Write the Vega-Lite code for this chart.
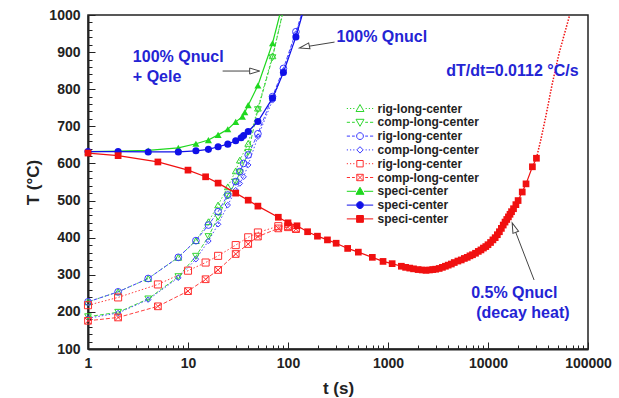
{
  "$schema": "https://vega.github.io/schema/vega-lite/v6.json",
  "width": 500,
  "height": 334,
  "autosize": {"type": "none"},
  "padding": {"left": 88, "top": 15, "right": 31, "bottom": 49},
  "background": "white",
  "config": {"view": {"stroke": "#222", "strokeWidth": 1.5}, "font": "Liberation Sans"},
  "datasets": {
    "main": [
      {"s":"1rig-long-center","t":1,"T":227},{"s":"1rig-long-center","t":2,"T":254},{"s":"1rig-long-center","t":4,"T":290},{"s":"1rig-long-center","t":8,"T":347},{"s":"1rig-long-center","t":12,"T":392},{"s":"1rig-long-center","t":16,"T":443},{"s":"1rig-long-center","t":20,"T":488},{"s":"1rig-long-center","t":25,"T":537},{"s":"1rig-long-center","t":30,"T":580},{"s":"1rig-long-center","t":33,"T":609},{"s":"1rig-long-center","t":40,"T":654},{"s":"1rig-long-center","t":50,"T":749},{"s":"1rig-long-center","t":70,"T":890},{"s":"1rig-long-center","t":90,"T":1011},
      {"s":"2comp-long-center","t":1,"T":187},{"s":"2comp-long-center","t":2,"T":199},{"s":"2comp-long-center","t":4,"T":235},{"s":"2comp-long-center","t":8,"T":295},{"s":"2comp-long-center","t":12,"T":350},{"s":"2comp-long-center","t":16,"T":403},{"s":"2comp-long-center","t":20,"T":455},{"s":"2comp-long-center","t":25,"T":512},{"s":"2comp-long-center","t":30,"T":550},{"s":"2comp-long-center","t":33,"T":575},{"s":"2comp-long-center","t":40,"T":630},{"s":"2comp-long-center","t":50,"T":745},{"s":"2comp-long-center","t":70,"T":885},{"s":"2comp-long-center","t":90,"T":1015},
      {"s":"3rig-long-center","t":1,"T":227},{"s":"3rig-long-center","t":2,"T":254},{"s":"3rig-long-center","t":4,"T":290},{"s":"3rig-long-center","t":8,"T":347},{"s":"3rig-long-center","t":12,"T":392},{"s":"3rig-long-center","t":16,"T":434},{"s":"3rig-long-center","t":20,"T":470},{"s":"3rig-long-center","t":25,"T":515},{"s":"3rig-long-center","t":30,"T":551},{"s":"3rig-long-center","t":33,"T":578},{"s":"3rig-long-center","t":36,"T":600},{"s":"3rig-long-center","t":40,"T":623},{"s":"3rig-long-center","t":50,"T":680},{"s":"3rig-long-center","t":70,"T":780},{"s":"3rig-long-center","t":90,"T":856},{"s":"3rig-long-center","t":120,"T":955},{"s":"3rig-long-center","t":140,"T":1010},
      {"s":"4comp-long-center","t":1,"T":183},{"s":"4comp-long-center","t":2,"T":197},{"s":"4comp-long-center","t":4,"T":233},{"s":"4comp-long-center","t":8,"T":292},{"s":"4comp-long-center","t":12,"T":342},{"s":"4comp-long-center","t":16,"T":391},{"s":"4comp-long-center","t":20,"T":436},{"s":"4comp-long-center","t":25,"T":488},{"s":"4comp-long-center","t":30,"T":528},{"s":"4comp-long-center","t":33,"T":546},{"s":"4comp-long-center","t":36,"T":564},{"s":"4comp-long-center","t":40,"T":596},{"s":"4comp-long-center","t":50,"T":672},{"s":"4comp-long-center","t":70,"T":770},{"s":"4comp-long-center","t":90,"T":850},{"s":"4comp-long-center","t":120,"T":950},{"s":"4comp-long-center","t":140,"T":1008},
      {"s":"5rig-long-center","t":1,"T":218},{"s":"5rig-long-center","t":2,"T":239},{"s":"5rig-long-center","t":5,"T":274},{"s":"5rig-long-center","t":10,"T":311},{"s":"5rig-long-center","t":15,"T":333},{"s":"5rig-long-center","t":20,"T":351},{"s":"5rig-long-center","t":30,"T":380},{"s":"5rig-long-center","t":40,"T":401},{"s":"5rig-long-center","t":50,"T":414},{"s":"5rig-long-center","t":80,"T":431},{"s":"5rig-long-center","t":100,"T":431},{"s":"5rig-long-center","t":120,"T":425},
      {"s":"6comp-long-center","t":1,"T":176},{"s":"6comp-long-center","t":2,"T":185},{"s":"6comp-long-center","t":5,"T":215},{"s":"6comp-long-center","t":10,"T":256},{"s":"6comp-long-center","t":15,"T":288},{"s":"6comp-long-center","t":20,"T":313},{"s":"6comp-long-center","t":30,"T":356},{"s":"6comp-long-center","t":40,"T":383},{"s":"6comp-long-center","t":50,"T":403},{"s":"6comp-long-center","t":80,"T":425},{"s":"6comp-long-center","t":100,"T":428},{"s":"6comp-long-center","t":120,"T":423},
      {"s":"7speci-center","t":1,"T":632},{"s":"7speci-center","t":2,"T":633},{"s":"7speci-center","t":4,"T":635},{"s":"7speci-center","t":8,"T":642},{"s":"7speci-center","t":12,"T":653},{"s":"7speci-center","t":16,"T":663},{"s":"7speci-center","t":20,"T":677},{"s":"7speci-center","t":25,"T":692},{"s":"7speci-center","t":30,"T":712},{"s":"7speci-center","t":35,"T":726},{"s":"7speci-center","t":37,"T":738},{"s":"7speci-center","t":40,"T":757},{"s":"7speci-center","t":50,"T":810},{"s":"7speci-center","t":70,"T":924},{"s":"7speci-center","t":85,"T":1013},
      {"s":"8speci-center","t":1,"T":632},{"s":"8speci-center","t":2,"T":632},{"s":"8speci-center","t":4,"T":631},{"s":"8speci-center","t":8,"T":631},{"s":"8speci-center","t":12,"T":634},{"s":"8speci-center","t":16,"T":638},{"s":"8speci-center","t":20,"T":645},{"s":"8speci-center","t":25,"T":652},{"s":"8speci-center","t":30,"T":661},{"s":"8speci-center","t":34,"T":669},{"s":"8speci-center","t":36,"T":675},{"s":"8speci-center","t":40,"T":686},{"s":"8speci-center","t":50,"T":713},{"s":"8speci-center","t":70,"T":776},{"s":"8speci-center","t":90,"T":845},{"s":"8speci-center","t":120,"T":941},{"s":"8speci-center","t":140,"T":1004},
      {"s":"9speci-center","t":1,"T":628},{"s":"9speci-center","t":2,"T":621},{"s":"9speci-center","t":5,"T":604},{"s":"9speci-center","t":10,"T":582},{"s":"9speci-center","t":15,"T":564},{"s":"9speci-center","t":20,"T":547},{"s":"9speci-center","t":30,"T":520},{"s":"9speci-center","t":40,"T":501},{"s":"9speci-center","t":50,"T":485},{"s":"9speci-center","t":80,"T":455},{"s":"9speci-center","t":100,"T":440},{"s":"9speci-center","t":123,"T":432},{"s":"9speci-center","t":157,"T":416},{"s":"9speci-center","t":197,"T":404},{"s":"9speci-center","t":248,"T":394},{"s":"9speci-center","t":303,"T":385},{"s":"9speci-center","t":395,"T":371},{"s":"9speci-center","t":505,"T":361},{"s":"9speci-center","t":697,"T":347},{"s":"9speci-center","t":892,"T":336},{"s":"9speci-center","t":1100,"T":330},{"s":"9speci-center","t":1360,"T":323},{"s":"9speci-center","t":1500,"T":320},{"s":"9speci-center","t":1650,"T":318},{"s":"9speci-center","t":1800,"T":316},{"s":"9speci-center","t":2000,"T":314},{"s":"9speci-center","t":2200,"T":313},{"s":"9speci-center","t":2400,"T":312},{"s":"9speci-center","t":2600,"T":313},{"s":"9speci-center","t":2800,"T":314},{"s":"9speci-center","t":3000,"T":315},{"s":"9speci-center","t":3250,"T":317},{"s":"9speci-center","t":3500,"T":320},{"s":"9speci-center","t":3750,"T":323},{"s":"9speci-center","t":4000,"T":326},{"s":"9speci-center","t":4300,"T":329},{"s":"9speci-center","t":4600,"T":333},{"s":"9speci-center","t":5000,"T":337},{"s":"9speci-center","t":5400,"T":340},{"s":"9speci-center","t":5800,"T":344},{"s":"9speci-center","t":6200,"T":347},{"s":"9speci-center","t":6600,"T":351},{"s":"9speci-center","t":7000,"T":354},{"s":"9speci-center","t":7500,"T":358},{"s":"9speci-center","t":8000,"T":363},{"s":"9speci-center","t":8500,"T":367},{"s":"9speci-center","t":9000,"T":372},{"s":"9speci-center","t":9500,"T":376},{"s":"9speci-center","t":10000,"T":381},{"s":"9speci-center","t":10600,"T":387},{"s":"9speci-center","t":11200,"T":394},{"s":"9speci-center","t":11800,"T":400},{"s":"9speci-center","t":12400,"T":408},{"s":"9speci-center","t":13000,"T":416},{"s":"9speci-center","t":13600,"T":425},{"s":"9speci-center","t":14200,"T":434},{"s":"9speci-center","t":14800,"T":442},{"s":"9speci-center","t":15400,"T":449},{"s":"9speci-center","t":16000,"T":456},{"s":"9speci-center","t":16600,"T":463},{"s":"9speci-center","t":17200,"T":470},{"s":"9speci-center","t":18000,"T":478},{"s":"9speci-center","t":19000,"T":489},{"s":"9speci-center","t":20000,"T":500},{"s":"9speci-center","t":22000,"T":523},{"s":"9speci-center","t":24000,"T":545},{"s":"9speci-center","t":27800,"T":591},{"s":"9speci-center","t":30500,"T":614}
    ],
    "tail": [
      {"t":30500,"T":614},{"t":33700,"T":663},{"t":37800,"T":726},{"t":44000,"T":816},{"t":51400,"T":897},{"t":65600,"T":1000}
    ],
    "notes": [
      {"t":2.81,"T":887,"label":"100% Qnucl"},
      {"t":2.81,"T":833,"label":"+ Qele"},
      {"t":305,"T":941,"label":"100% Qnucl"},
      {"t":3830,"T":849,"label":"dT/dt=0.0112 °C/s"},
      {"t":6790,"T":251,"label":"0.5% Qnucl"},
      {"t":7620,"T":197,"label":"(decay heat)"}
    ],
    "arrows": [
      {"t":22.2,"T":849,"t2":41.4,"T2":849},
      {"t":292,"T":927,"t2":160.6,"T2":915.7},
      {"t":28900,"T":286,"t2":18900,"T2":415}
    ],
    "heads": [
      {"id":"a","t":46.4,"T":849},
      {"id":"b","t":146,"T":914},
      {"id":"c","t":18180,"T":427}
    ]
  },
  "resolve": {"axis": {"x": "independent", "y": "independent"}},
  "layer": [
    {
      "data": {"name": "main"},
      "mark": {"type": "point", "opacity": 0, "filled": true, "strokeWidth": 1},
      "encoding": {
        "x": {"field": "t", "type": "quantitative", "scale": {"type": "log", "domain": [1, 100000]},
          "axis": {"orient": "bottom", "values": [1, 10, 100, 1000, 10000, 100000], "format": "d", "tickSize": -7, "tickColor": "#222", "tickWidth": 1, "labelPadding": 14, "labelFont": "Liberation Sans", "labelFontWeight": "bold", "labelFontSize": 14, "labelColor": "#222", "labelFlush": false, "labelOverlap": false, "domainColor": "#222", "domainWidth": 2, "grid": false, "title": "t (s)", "titleFont": "Liberation Sans", "titleFontSize": 17, "titleFontWeight": "bold", "titleColor": "#222", "titleX": 250, "titleY": 39, "titleBaseline": "middle", "titleAlign": "center"}},
        "y": {"field": "T", "type": "quantitative", "scale": {"domain": [100, 1000], "nice": false, "zero": false},
          "axis": {"orient": "left", "values": [100, 200, 300, 400, 500, 600, 700, 800, 900, 1000], "format": "d", "tickSize": -7, "tickColor": "#222", "tickWidth": 1, "labelPadding": 15, "labelFont": "Liberation Sans", "labelFontWeight": "bold", "labelFontSize": 14, "labelColor": "#222", "labelFlush": false, "labelOverlap": false, "domainColor": "#222", "domainWidth": 2, "grid": false, "title": "T (°C)", "titleFont": "Liberation Sans", "titleFontSize": 17, "titleFontWeight": "bold", "titleColor": "#222", "titleX": -55, "titleY": 167, "titleAngle": 270, "titleBaseline": "middle", "titleAlign": "center"}},
        "stroke": {"field": "s", "type": "nominal",
          "scale": {"domain": ["1rig-long-center","2comp-long-center","3rig-long-center","4comp-long-center","5rig-long-center","6comp-long-center","7speci-center","8speci-center","9speci-center"],
            "range": ["#2fd62f","#2fd62f","#3a3aff","#3a3aff","#ff3030","#ff3030","#1fd81f","#1010e8","#f01010"]},
          "legend": {"orient": "none", "legendX": 266, "legendY": 87.5, "title": null, "labelExpr": "substring(datum.label, 1)", "symbolSize": 64, "symbolStrokeWidth": 1, "symbolFillColor": "transparent", "labelFont": "Liberation Sans", "labelFontSize": 12, "labelFontWeight": "bold", "labelColor": "#222", "labelOffset": 11.5, "rowPadding": 1.8, "padding": 0}},
        "fill": {"field": "s", "type": "nominal",
          "scale": {"domain": ["1rig-long-center","2comp-long-center","3rig-long-center","4comp-long-center","5rig-long-center","6comp-long-center","7speci-center","8speci-center","9speci-center"],
            "range": ["transparent","transparent","transparent","transparent","transparent","transparent","#1fd81f","#1010e8","#f01010"]},
          "legend": {"orient": "none", "legendX": 266, "legendY": 87.5, "title": null, "labelExpr": "substring(datum.label, 1)", "symbolSize": 64, "symbolStrokeWidth": 1, "symbolFillColor": "transparent", "labelFont": "Liberation Sans", "labelFontSize": 12, "labelFontWeight": "bold", "labelColor": "#222", "labelOffset": 11.5, "rowPadding": 1.8, "padding": 0}},
        "shape": {"field": "s", "type": "nominal",
          "scale": {"domain": ["1rig-long-center","2comp-long-center","3rig-long-center","4comp-long-center","5rig-long-center","6comp-long-center","7speci-center","8speci-center","9speci-center"],
            "range": [
              "M-3.3,0H-3M-2.5,0H-2.2M-1.7,0H-1.4M1.4,0H1.7M2.2,0H2.5M3,0H3.3M0,-1L1,0.75L-1,0.75Z",
              "M-3.3,0H-2.5M-2,0H-1.3M1.3,0H2M2.5,0H3.3M0,1L1,-0.75L-1,-0.75Z",
              "M-3.3,0H-2.5M-2,0H-1.3M1.3,0H2M2.5,0H3.3M0.85,0A0.85,0.85,0,1,1,-0.85,0A0.85,0.85,0,1,1,0.85,0Z",
              "M-3.3,0H-3M-2.5,0H-2.2M-1.7,0H-1.4M1.4,0H1.7M2.2,0H2.5M3,0H3.3M0,-0.8L0.8,0L0,0.8L-0.8,0Z",
              "M-3.3,0H-3M-2.5,0H-2.2M-1.7,0H-1.4M1.4,0H1.7M2.2,0H2.5M3,0H3.3M-0.8,-0.8H0.8V0.8H-0.8Z",
              "M-3.3,0H-2.5M-2,0H-1.3M1.3,0H2M2.5,0H3.3M-0.8,-0.8H0.8V0.8H-0.8ZM-0.8,-0.8L0.8,0.8M0.8,-0.8L-0.8,0.8",
              "M-3.3,0H-1M1,0H3.3M0,-1L1,0.75L-1,0.75Z",
              "M-3.3,0H-1M1,0H3.3M0.85,0A0.85,0.85,0,1,1,-0.85,0A0.85,0.85,0,1,1,0.85,0Z",
              "M-3.3,0H-1M1,0H3.3M-0.85,-0.85H0.85V0.85H-0.85Z"
            ]},
          "legend": {"orient": "none", "legendX": 266, "legendY": 87.5, "title": null, "labelExpr": "substring(datum.label, 1)", "symbolSize": 64, "symbolStrokeWidth": 1, "symbolFillColor": "transparent", "labelFont": "Liberation Sans", "labelFontSize": 12, "labelFontWeight": "bold", "labelColor": "#222", "labelOffset": 11.5, "rowPadding": 1.8, "padding": 0}}
      }
    },
    {
      "data": {"name": "tail"},
      "mark": {"type": "line", "clip": true, "color": "#f01010", "strokeWidth": 1.5, "strokeDash": [1.5, 1.5]},
      "encoding": {
        "x": {"field": "t", "type": "quantitative", "scale": {"type": "log", "domain": [1, 100000]},
          "axis": {"orient": "bottom", "values": [2,3,4,5,6,7,8,9,20,30,40,50,60,70,80,90,200,300,400,500,600,700,800,900,2000,3000,4000,5000,6000,7000,8000,9000,20000,30000,40000,50000,60000,70000,80000,90000], "tickSize": -4, "tickColor": "#222", "tickWidth": 1, "labels": false, "domain": false, "grid": false, "title": null}},
        "y": {"field": "T", "type": "quantitative", "scale": {"domain": [100, 1000], "nice": false, "zero": false},
          "axis": {"orient": "left", "values": [120,140,160,180,220,240,260,280,320,340,360,380,420,440,460,480,520,540,560,580,620,640,660,680,720,740,760,780,820,840,860,880,920,940,960,980], "tickSize": -4, "tickColor": "#222", "tickWidth": 1, "labels": false, "domain": false, "grid": false, "title": null}}
      }
    },
    {"data": {"name": "main"}, "transform": [{"filter": "datum.s=='1rig-long-center'"}], "mark": {"type": "line", "clip": true, "color": "#3cd63c", "strokeWidth": 1, "strokeDash": [1.5, 2]}, "encoding": {"x": {"field": "t", "type": "quantitative", "scale": {"type": "log", "domain": [1, 100000]}, "axis": null}, "y": {"field": "T", "type": "quantitative", "scale": {"domain": [100, 1000], "nice": false, "zero": false}, "axis": null}}},
    {"data": {"name": "main"}, "transform": [{"filter": "datum.s=='2comp-long-center'"}], "mark": {"type": "line", "clip": true, "color": "#3cd63c", "strokeWidth": 1, "strokeDash": [4, 2]}, "encoding": {"x": {"field": "t", "type": "quantitative", "scale": {"type": "log", "domain": [1, 100000]}, "axis": null}, "y": {"field": "T", "type": "quantitative", "scale": {"domain": [100, 1000], "nice": false, "zero": false}, "axis": null}}},
    {"data": {"name": "main"}, "transform": [{"filter": "datum.s=='3rig-long-center'"}], "mark": {"type": "line", "clip": true, "color": "#4a4aff", "strokeWidth": 1, "strokeDash": [4, 2]}, "encoding": {"x": {"field": "t", "type": "quantitative", "scale": {"type": "log", "domain": [1, 100000]}, "axis": null}, "y": {"field": "T", "type": "quantitative", "scale": {"domain": [100, 1000], "nice": false, "zero": false}, "axis": null}}},
    {"data": {"name": "main"}, "transform": [{"filter": "datum.s=='4comp-long-center'"}], "mark": {"type": "line", "clip": true, "color": "#4a4aff", "strokeWidth": 1, "strokeDash": [1.5, 2]}, "encoding": {"x": {"field": "t", "type": "quantitative", "scale": {"type": "log", "domain": [1, 100000]}, "axis": null}, "y": {"field": "T", "type": "quantitative", "scale": {"domain": [100, 1000], "nice": false, "zero": false}, "axis": null}}},
    {"data": {"name": "main"}, "transform": [{"filter": "datum.s=='5rig-long-center'"}], "mark": {"type": "line", "clip": true, "color": "#ff4040", "strokeWidth": 1, "strokeDash": [1.5, 2]}, "encoding": {"x": {"field": "t", "type": "quantitative", "scale": {"type": "log", "domain": [1, 100000]}, "axis": null}, "y": {"field": "T", "type": "quantitative", "scale": {"domain": [100, 1000], "nice": false, "zero": false}, "axis": null}}},
    {"data": {"name": "main"}, "transform": [{"filter": "datum.s=='6comp-long-center'"}], "mark": {"type": "line", "clip": true, "color": "#ff4040", "strokeWidth": 1, "strokeDash": [4, 2]}, "encoding": {"x": {"field": "t", "type": "quantitative", "scale": {"type": "log", "domain": [1, 100000]}, "axis": null}, "y": {"field": "T", "type": "quantitative", "scale": {"domain": [100, 1000], "nice": false, "zero": false}, "axis": null}}},
    {"data": {"name": "main"}, "transform": [{"filter": "datum.s=='1rig-long-center' && datum.T<=1000"}], "mark": {"type": "point", "shape": "triangle-up", "filled": false, "color": "#2fd62f", "strokeWidth": 1, "size": 45, "opacity": 1}, "encoding": {"x": {"field": "t", "type": "quantitative", "scale": {"type": "log", "domain": [1, 100000]}, "axis": null}, "y": {"field": "T", "type": "quantitative", "scale": {"domain": [100, 1000], "nice": false, "zero": false}, "axis": null}}},
    {"data": {"name": "main"}, "transform": [{"filter": "datum.s=='2comp-long-center' && datum.T<=1000"}], "mark": {"type": "point", "shape": "triangle-down", "filled": false, "color": "#2fd62f", "strokeWidth": 1, "size": 45, "opacity": 1}, "encoding": {"x": {"field": "t", "type": "quantitative", "scale": {"type": "log", "domain": [1, 100000]}, "axis": null}, "y": {"field": "T", "type": "quantitative", "scale": {"domain": [100, 1000], "nice": false, "zero": false}, "axis": null}}},
    {"data": {"name": "main"}, "transform": [{"filter": "datum.s=='3rig-long-center' && datum.T<=1000"}], "mark": {"type": "point", "shape": "circle", "filled": false, "color": "#3a3aff", "strokeWidth": 1, "size": 45, "opacity": 1}, "encoding": {"x": {"field": "t", "type": "quantitative", "scale": {"type": "log", "domain": [1, 100000]}, "axis": null}, "y": {"field": "T", "type": "quantitative", "scale": {"domain": [100, 1000], "nice": false, "zero": false}, "axis": null}}},
    {"data": {"name": "main"}, "transform": [{"filter": "datum.s=='4comp-long-center' && datum.T<=1000"}], "mark": {"type": "point", "shape": "diamond", "filled": false, "color": "#3a3aff", "strokeWidth": 1, "size": 30, "opacity": 1}, "encoding": {"x": {"field": "t", "type": "quantitative", "scale": {"type": "log", "domain": [1, 100000]}, "axis": null}, "y": {"field": "T", "type": "quantitative", "scale": {"domain": [100, 1000], "nice": false, "zero": false}, "axis": null}}},
    {"data": {"name": "main"}, "transform": [{"filter": "datum.s=='5rig-long-center' && datum.T<=1000"}], "mark": {"type": "point", "shape": "square", "filled": false, "color": "#ff3030", "strokeWidth": 1, "size": 50, "opacity": 1}, "encoding": {"x": {"field": "t", "type": "quantitative", "scale": {"type": "log", "domain": [1, 100000]}, "axis": null}, "y": {"field": "T", "type": "quantitative", "scale": {"domain": [100, 1000], "nice": false, "zero": false}, "axis": null}}},
    {"data": {"name": "main"}, "transform": [{"filter": "datum.s=='6comp-long-center' && datum.T<=1000"}], "mark": {"type": "point", "shape": "M-1,-1H1V1H-1ZM-1,-1L1,1M1,-1L-1,1", "filled": false, "color": "#ff3030", "strokeWidth": 1, "size": 45, "opacity": 1}, "encoding": {"x": {"field": "t", "type": "quantitative", "scale": {"type": "log", "domain": [1, 100000]}, "axis": null}, "y": {"field": "T", "type": "quantitative", "scale": {"domain": [100, 1000], "nice": false, "zero": false}, "axis": null}}},
    {"data": {"name": "main"}, "transform": [{"filter": "datum.s=='7speci-center'"}], "mark": {"type": "line", "clip": true, "color": "#1fd81f", "strokeWidth": 1.2}, "encoding": {"x": {"field": "t", "type": "quantitative", "scale": {"type": "log", "domain": [1, 100000]}, "axis": null}, "y": {"field": "T", "type": "quantitative", "scale": {"domain": [100, 1000], "nice": false, "zero": false}, "axis": null}}},
    {"data": {"name": "main"}, "transform": [{"filter": "datum.s=='8speci-center'"}], "mark": {"type": "line", "clip": true, "color": "#1010e8", "strokeWidth": 1.2}, "encoding": {"x": {"field": "t", "type": "quantitative", "scale": {"type": "log", "domain": [1, 100000]}, "axis": null}, "y": {"field": "T", "type": "quantitative", "scale": {"domain": [100, 1000], "nice": false, "zero": false}, "axis": null}}},
    {"data": {"name": "main"}, "transform": [{"filter": "datum.s=='9speci-center'"}], "mark": {"type": "line", "clip": true, "color": "#f01010", "strokeWidth": 1.2}, "encoding": {"x": {"field": "t", "type": "quantitative", "scale": {"type": "log", "domain": [1, 100000]}, "axis": null}, "y": {"field": "T", "type": "quantitative", "scale": {"domain": [100, 1000], "nice": false, "zero": false}, "axis": null}}},
    {"data": {"name": "main"}, "transform": [{"filter": "datum.s=='7speci-center' && datum.T<=1000"}], "mark": {"type": "point", "shape": "triangle-up", "filled": true, "color": "#1fd81f", "size": 50, "opacity": 1}, "encoding": {"x": {"field": "t", "type": "quantitative", "scale": {"type": "log", "domain": [1, 100000]}, "axis": null}, "y": {"field": "T", "type": "quantitative", "scale": {"domain": [100, 1000], "nice": false, "zero": false}, "axis": null}}},
    {"data": {"name": "main"}, "transform": [{"filter": "datum.s=='8speci-center' && datum.T<=1000"}], "mark": {"type": "point", "shape": "circle", "filled": true, "color": "#1010e8", "size": 50, "opacity": 1}, "encoding": {"x": {"field": "t", "type": "quantitative", "scale": {"type": "log", "domain": [1, 100000]}, "axis": null}, "y": {"field": "T", "type": "quantitative", "scale": {"domain": [100, 1000], "nice": false, "zero": false}, "axis": null}}},
    {"data": {"name": "main"}, "transform": [{"filter": "datum.s=='9speci-center' && datum.T<=1000"}], "mark": {"type": "point", "shape": "square", "filled": true, "color": "#f01010", "size": 45, "opacity": 1}, "encoding": {"x": {"field": "t", "type": "quantitative", "scale": {"type": "log", "domain": [1, 100000]}, "axis": null}, "y": {"field": "T", "type": "quantitative", "scale": {"domain": [100, 1000], "nice": false, "zero": false}, "axis": null}}},
    {"data": {"name": "arrows"}, "mark": {"type": "rule", "color": "#444", "strokeWidth": 1}, "encoding": {"x": {"field": "t", "type": "quantitative", "scale": {"type": "log", "domain": [1, 100000]}, "axis": null}, "y": {"field": "T", "type": "quantitative", "scale": {"domain": [100, 1000], "nice": false, "zero": false}, "axis": null}, "x2": {"field": "t2"}, "y2": {"field": "T2"}}},
    {"data": {"name": "heads"}, "transform": [{"filter": "datum.id=='a'"}], "mark": {"type": "point", "shape": "M1,0L-1,-0.6L-1,0.6Z", "size": 100, "filled": true, "fill": "white", "stroke": "#444", "strokeWidth": 1, "opacity": 1, "angle": 0}, "encoding": {"x": {"field": "t", "type": "quantitative", "scale": {"type": "log", "domain": [1, 100000]}, "axis": null}, "y": {"field": "T", "type": "quantitative", "scale": {"domain": [100, 1000], "nice": false, "zero": false}, "axis": null}}},
    {"data": {"name": "heads"}, "transform": [{"filter": "datum.id=='b'"}], "mark": {"type": "point", "shape": "M1,0L-1,-0.6L-1,0.6Z", "size": 100, "filled": true, "fill": "white", "stroke": "#444", "strokeWidth": 1, "opacity": 1, "angle": 167.6}, "encoding": {"x": {"field": "t", "type": "quantitative", "scale": {"type": "log", "domain": [1, 100000]}, "axis": null}, "y": {"field": "T", "type": "quantitative", "scale": {"domain": [100, 1000], "nice": false, "zero": false}, "axis": null}}},
    {"data": {"name": "heads"}, "transform": [{"filter": "datum.id=='c'"}], "mark": {"type": "point", "shape": "M1,0L-1,-0.6L-1,0.6Z", "size": 100, "filled": true, "fill": "white", "stroke": "#444", "strokeWidth": 1, "opacity": 1, "angle": 249}, "encoding": {"x": {"field": "t", "type": "quantitative", "scale": {"type": "log", "domain": [1, 100000]}, "axis": null}, "y": {"field": "T", "type": "quantitative", "scale": {"domain": [100, 1000], "nice": false, "zero": false}, "axis": null}}},
    {"data": {"name": "notes"}, "mark": {"type": "text", "align": "left", "baseline": "middle", "font": "Liberation Sans", "fontSize": 16, "fontWeight": "bold", "color": "#2424d4"}, "encoding": {"x": {"field": "t", "type": "quantitative", "scale": {"type": "log", "domain": [1, 100000]}, "axis": null}, "y": {"field": "T", "type": "quantitative", "scale": {"domain": [100, 1000], "nice": false, "zero": false}, "axis": null}, "text": {"field": "label"}}}
  ]
}
